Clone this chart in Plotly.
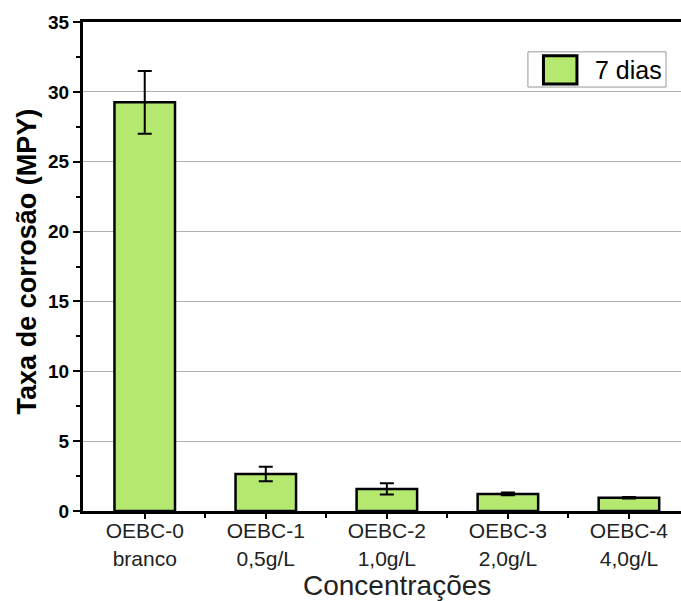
import plotly.graph_objects as go

# Corrosion rate per inhibitor concentration after 7 days
categories = ["OEBC-0<br>branco", "OEBC-1<br>0,5g/L", "OEBC-2<br>1,0g/L",
              "OEBC-3<br>2,0g/L", "OEBC-4<br>4,0g/L"]
taxa_mpy = [29.25, 2.65, 1.58, 1.22, 0.95]
erro_mpy = [2.25, 0.52, 0.40, 0.10, 0.06]
series_name = "7 dias"
x_title = "Concentrações"
y_title = "Taxa de corrosão (MPY)"

positions = list(range(len(categories)))
bar_fill = "#b5e86e"
sans = "Liberation Sans, Arial, sans-serif"

fig = go.Figure()
fig.add_trace(go.Bar(
    x=positions, y=taxa_mpy, name=series_name, width=0.5,
    marker=dict(color=bar_fill, line=dict(color="black", width=2.5)),
    error_y=dict(type="data", array=erro_mpy, visible=True,
                 color="black", thickness=2, width=7),
    showlegend=False,
))

fig.update_layout(
    width=681, height=601,
    margin=dict(l=83, r=0, t=22, b=90),
    paper_bgcolor="white", plot_bgcolor="white",
    font=dict(family=sans, color="black"),
    xaxis=dict(
        range=[-0.51, 4.43],
        tickmode="array", tickvals=positions, ticktext=categories,
        tickfont=dict(size=21, family=sans, color="#222222"),
        ticklabelstandoff=-6,
        ticks="outside", ticklen=5, tickwidth=2, tickcolor="black",
        minor=dict(tickmode="array", tickvals=[p + 0.5 for p in positions[:-1]],
                   ticks="outside", ticklen=4, tickwidth=2, tickcolor="black"),
        showline=True, linecolor="black", linewidth=3, mirror=True,
        showgrid=False, zeroline=False,
    ),
    yaxis=dict(
        range=[0, 35], dtick=5,
        tickfont=dict(size=19, family=sans, weight="bold"),
        ticks="outside", ticklen=7, tickwidth=2, tickcolor="black",
        minor=dict(dtick=2.5, ticks="outside", ticklen=4, tickwidth=2, tickcolor="black"),
        showline=True, linecolor="black", linewidth=3,
        showgrid=True, gridcolor="#b0b0b0", gridwidth=1.2,
        zeroline=False,
    ),
)

# Axis titles
fig.add_annotation(xref="paper", yref="paper", x=0.525, y=-0.152,
                   text=x_title, showarrow=False, xanchor="center", yanchor="middle",
                   font=dict(size=28, family=sans, color="#222222"))
fig.add_annotation(xref="paper", yref="paper", x=-0.094, y=0.510,
                   text=f"<b>{y_title}</b>", showarrow=False, textangle=-90,
                   xanchor="center", yanchor="middle",
                   font=dict(size=27, family=sans))

# Legend box with swatch
fig.add_shape(type="rect", xref="paper", yref="paper",
              x0=0.744, x1=0.975, y0=0.867, y1=0.939,
              line=dict(color="#999999", width=1), fillcolor="white")
fig.add_shape(type="rect", xref="paper", yref="paper",
              x0=0.770, x1=0.826, y0=0.873, y1=0.931,
              line=dict(color="black", width=3), fillcolor=bar_fill)
fig.add_annotation(xref="paper", yref="paper", x=0.853, y=0.902,
                   text=series_name, showarrow=False, xanchor="left", yanchor="middle",
                   font=dict(size=25, family=sans))

fig.write_html("out.html")
